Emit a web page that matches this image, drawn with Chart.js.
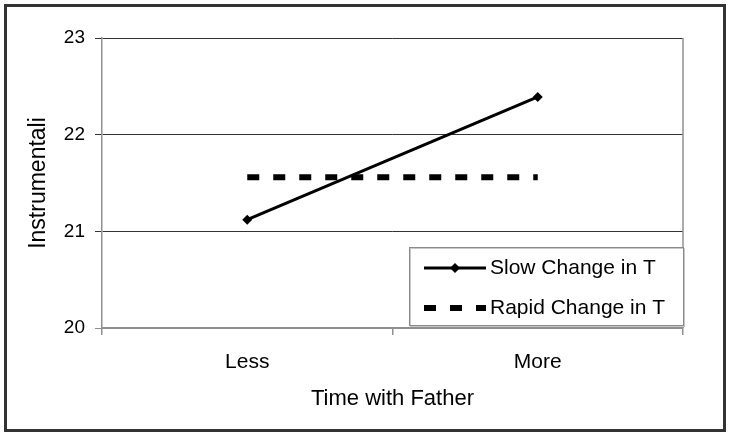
<!DOCTYPE html>
<html>
<head>
<meta charset="utf-8">
<script src="https://cdn.jsdelivr.net/npm/chart.js@4.4.1/dist/chart.umd.min.js"></script>
<style>
  body { margin: 0; background: #fff; }
  #wrap { width: 731px; height: 438px; }
</style>
</head>
<body>
<div id="wrap"><canvas id="lineChart" width="731" height="438"></canvas></div>
<script>
var categories = ['Less', 'More'];
var slowValues = [21.12, 22.39];
var rapidValues = [21.56, 21.56];
var yTicks = [20, 21, 22, 23];
var seriesNames = ['Slow Change in T', 'Rapid Change in T'];

var fontFamily = '"Liberation Sans", Arial, sans-serif';

// frame, right border of plot area and the boxed legend inside the plot
var framePlugin = {
    id: 'frame',
    beforeDraw: function (chart) {
        var ctx = chart.ctx;
        ctx.save();
        ctx.fillStyle = '#fff';
        ctx.fillRect(0, 0, chart.width, chart.height);
        ctx.restore();
    },
    afterDraw: function (chart) {
        var ctx = chart.ctx;
        var area = chart.chartArea;
        ctx.save();
        // right edge of plot
        ctx.strokeStyle = '#909090';
        ctx.lineWidth = 1.5;
        ctx.beginPath();
        ctx.moveTo(area.right, area.top);
        ctx.lineTo(area.right, area.bottom);
        ctx.stroke();

        // outer frame
        ctx.strokeStyle = '#333';
        ctx.lineWidth = 3;
        ctx.strokeRect(5.5, 5.5, 719, 425);

        // legend box
        var lx = 409, ly = 247, lw = 274, lh = 78;
        ctx.fillStyle = '#fff';
        ctx.fillRect(lx, ly, lw, lh);
        ctx.strokeStyle = '#c8c8c8';
        ctx.lineWidth = 1;
        ctx.strokeRect(lx + 1.5, ly + 1.5, lw, lh);
        ctx.strokeStyle = '#8a8a8a';
        ctx.strokeRect(lx + 0.5, ly + 0.5, lw, lh);

        var rowsY = [268, 308];
        chart.data.datasets.forEach(function (ds, i) {
            var y = rowsY[i];
            ctx.strokeStyle = ds.borderColor;
            ctx.lineWidth = ds.borderWidth;
            ctx.setLineDash(ds.borderDash || []);
            ctx.lineCap = 'butt';
            ctx.beginPath();
            ctx.moveTo(424, y);
            ctx.lineTo(486, y);
            ctx.stroke();
            ctx.setLineDash([]);
            if (ds.pointRadius > 0) {
                var r = ds.pointRadius;
                ctx.fillStyle = ds.pointBackgroundColor;
                ctx.beginPath();
                ctx.moveTo(455, y - r);
                ctx.lineTo(455 + r, y);
                ctx.lineTo(455, y + r);
                ctx.lineTo(455 - r, y);
                ctx.closePath();
                ctx.fill();
            }
            ctx.fillStyle = '#000';
            ctx.font = '21px ' + fontFamily;
            ctx.textBaseline = 'middle';
            ctx.textAlign = 'left';
            ctx.fillText(ds.label, 490, y);
        });
        ctx.restore();
    }
};

var lineChartData = {
    labels: categories,
    datasets: [{
        label: seriesNames[0],
        data: slowValues,
        borderColor: '#000',
        backgroundColor: '#000',
        borderWidth: 3,
        pointStyle: 'rectRot',
        pointRadius: 5,
        pointBackgroundColor: '#000',
        pointBorderWidth: 0,
        fill: false,
        tension: 0
    }, {
        label: seriesNames[1],
        data: rapidValues,
        borderColor: '#000',
        backgroundColor: '#000',
        borderWidth: 6,
        borderDash: [12, 14],
        borderCapStyle: 'butt',
        pointRadius: 0,
        fill: false,
        tension: 0
    }]
};

var lineChartOptions = {
    responsive: false,
    animation: false,
    layout: { padding: { left: 0, top: 38, right: 48, bottom: 0 } },
    plugins: {
        legend: { display: false },
        tooltip: { enabled: false }
    },
    scales: {
        x: {
            offset: true,
            afterFit: function (scale) { scale.height = 110; },
            grid: {
                offset: true,
                drawOnChartArea: false,
                drawTicks: true,
                tickLength: 7,
                color: '#909090',
                lineWidth: 1.5
            },
            border: { display: true, color: '#909090', width: 2 },
            ticks: {
                color: '#000',
                padding: 15,
                font: { family: fontFamily, size: 21 }
            },
            title: {
                display: true,
                text: 'Time with Father',
                color: '#000',
                padding: { top: 0, bottom: 26 },
                font: { family: fontFamily, size: 22 }
            }
        },
        y: {
            min: yTicks[0],
            max: yTicks[yTicks.length - 1],
            afterFit: function (scale) { scale.width = 102; },
            afterBuildTicks: function (scale) {
                scale.ticks = yTicks.map(function (v) { return { value: v }; });
            },
            grid: {
                tickLength: 7,
                color: function (c) { return c.tick && c.tick.value === yTicks[0] ? '#909090' : '#333'; },
                lineWidth: 1
            },
            border: { display: true, color: '#909090', width: 1.5 },
            ticks: {
                color: '#000',
                padding: 10,
                font: { family: fontFamily, size: 19 }
            },
            title: {
                display: true,
                text: 'Instrumentali',
                color: '#000',
                padding: { top: 25, bottom: 0 },
                font: { family: fontFamily, size: 23 }
            }
        }
    }
};

var lineCtx = document.getElementById('lineChart').getContext('2d');
new Chart(lineCtx, {
    type: 'line',
    data: lineChartData,
    options: lineChartOptions,
    plugins: [framePlugin]
});
</script>
</body>
</html>
